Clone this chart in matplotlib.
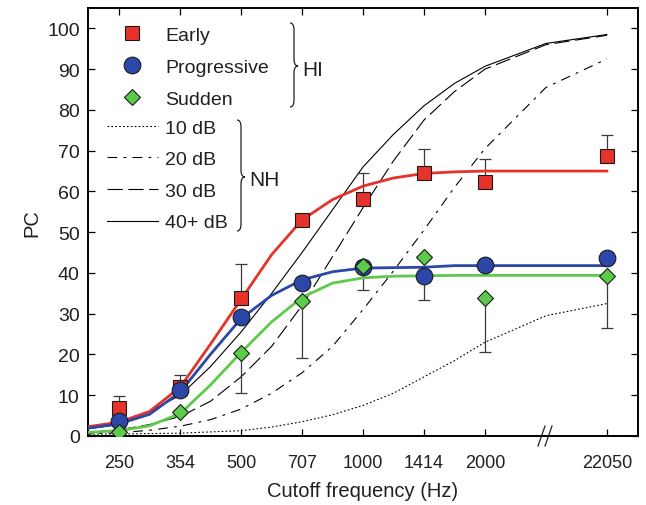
import matplotlib.pyplot as plt
import numpy as np
from matplotlib.lines import Line2D
from matplotlib.path import Path
from matplotlib.patches import PathPatch

plt.rcParams['font.family'] = ['Liberation Sans', 'DejaVu Sans']
plt.rcParams['lines.scale_dashes'] = False

nan = np.nan

# measured cutoff frequencies (Hz), 22050 sits after an axis break
freq_labels = ['250', '354', '500', '707', '1000', '1414', '2000', '22050']
freq_hz = np.array([250, 354, 500, 707, 1000, 1414, 2000, 22050])

# HI group means (PC) and one-sided error bar tips
early = np.array([6.9, 12.0, 33.9, 53.1, 58.2, 64.4, 62.2, 68.6])
early_upper = np.array([9.8, 15.0, 42.2, nan, 64.6, 70.5, 68.0, 73.8])
progressive = np.array([3.6, 11.2, 29.1, 37.5, 41.4, 39.2, 41.9, 43.6])
progressive_lower = np.array([nan, nan, nan, nan, 35.7, 33.3, nan, nan])
sudden = np.array([0.9, 6.0, 20.3, 33.0, 41.7, 43.9, 33.8, 39.2])
sudden_lower = np.array([nan, nan, 10.6, 19.1, nan, nan, 20.6, 26.4])

curve_hz = np.array([177, 250, 297, 354, 420, 500, 595, 707, 841, 1000,
                     1189, 1414, 1682, 2000, 2828, 22050])
early_fit = [1.2, 3.4, 6.0, 12.0, 22.5, 33.5, 44.5, 53.0, 58.0, 61.3,
             63.3, 64.4, 64.8, 65.0, 65.0, 65.0]
progressive_fit = [0.9, 3.0, 5.3, 10.8, 20.0, 28.8, 34.5, 38.3, 40.3, 41.2,
                   41.3, 41.4, 41.8, 41.8, 41.8, 41.8]
sudden_fit = [0.5, 1.3, 2.5, 5.5, 12.5, 20.5, 28.0, 34.0, 37.5, 38.8,
              39.2, 39.3, 39.4, 39.4, 39.4, 39.4]

nh_10 = [0.4, 0.5, 0.6, 0.7, 1.0, 1.3, 2.2, 3.5, 5.2, 7.5,
         10.5, 14.5, 18.5, 23.0, 29.5, 32.5]
nh_20 = [0.3, 0.8, 1.4, 2.4, 4.0, 6.6, 10.5, 15.5, 22.0, 31.0,
         40.5, 50.5, 61.0, 70.5, 85.5, 92.5]
nh_30 = [0.5, 1.5, 2.8, 4.8, 8.5, 14.5, 22.0, 32.0, 44.0, 56.0,
         67.5, 77.5, 84.5, 90.0, 96.0, 98.3]
nh_40 = [0.8, 2.8, 6.0, 10.0, 17.0, 25.5, 35.0, 45.0, 55.5, 66.0,
         74.0, 81.0, 86.5, 90.7, 96.3, 98.5]


def band_pos(f):
    # half-octave bands; anything past the break is drawn at slot 9
    f = np.asarray(f, float)
    return np.where(f > 3000, 9.0, 1 + 2 * np.log2(f / 250.0))


RED = '#e5322a'
BLUE = '#2c47a8'
GREEN = '#5ccb4a'
TXT = '#231f20'

fig = plt.figure(figsize=(6.46, 5.06), dpi=100)
W, H = 646, 506
L, R, T, B = 88, 638, 9, 437
ax = fig.add_axes([L / W, 1 - B / H, (R - L) / W, (B - T) / H])

xc = band_pos(curve_hz)
nh_styles = [
    (nh_10, '10 dB', (0, (1.2, 1.6))),
    (nh_20, '20 dB', (0, (7, 4.5, 2, 4.5))),
    (nh_30, '30 dB', (0, (11, 4))),
    (nh_40, '40+ dB', '-'),
]
nh_handles = []
for ys, lab, ls in nh_styles:
    ax.plot(xc, ys, color='black', lw=0.8, ls=ls, zorder=2)
    nh_handles.append(Line2D([], [], color='black', lw=0.8, ls=ls, label=lab))

ax.plot(xc, early_fit, color=RED, lw=2.0, zorder=4)
ax.plot(xc, progressive_fit, color=BLUE, lw=2.0, zorder=4)
ax.plot(xc, sudden_fit, color=GREEN, lw=2.0, zorder=4)

xp = band_pos(freq_hz)


def one_sided(y, tip, up):
    m = np.isfinite(tip)
    d = np.abs(tip - y)[m]
    z = np.zeros(m.sum())
    yerr = [z, d] if up else [d, z]
    ax.errorbar(xp[m], y[m], yerr=yerr, fmt='none', ecolor='#3a3a3a',
                elinewidth=0.9, capsize=4, capthick=0.9, zorder=3)


one_sided(early, early_upper, True)
one_sided(progressive, progressive_lower, False)
one_sided(sudden, sudden_lower, False)

mk = dict(ls='none', mec='#1a1a1a', mew=0.8, zorder=5)
h_e, = ax.plot(xp, early, marker='s', ms=10, mfc=RED, label='Early', **mk)
h_p, = ax.plot(xp, progressive, marker='o', ms=12, mfc=BLUE,
               label='Progressive', **mk)
h_s, = ax.plot(xp, sudden, marker='D', ms=8.5, mfc=GREEN, label='Sudden', **mk)

ax.set_xlim(0.49, 9.51)
ax.set_ylim(0, 105)
ax.set_xticks(xp)
ax.set_xticklabels(freq_labels)
ax.set_yticks(np.arange(0, 101, 10))
ax.tick_params(direction='in', length=5, width=0.9, top=True, right=True,
               labelcolor=TXT)
ax.tick_params(axis='x', pad=13, labelsize=13)
ax.tick_params(axis='y', pad=6, labelsize=14)
for s in ax.spines.values():
    s.set_linewidth(1.4)

ax.set_xlabel('Cutoff frequency (Hz)', fontsize=14.5, color=TXT)
ax.set_ylabel('PC', fontsize=14.5, color=TXT)
ax.xaxis.set_label_coords(0.5, -0.105)
ax.yaxis.set_label_coords(-0.085, 0.5)


def px(x, y):
    return ((x - L) / (R - L), (B - y) / (B - T))


leg1 = ax.legend(handles=[h_e, h_p, h_s], loc='upper left',
                 bbox_to_anchor=px(107, 27), frameon=False, fontsize=14,
                 handlelength=2.6, handletextpad=0.4, labelspacing=0.74,
                 borderpad=0, borderaxespad=0, labelcolor=TXT)
ax.add_artist(leg1)
ax.legend(handles=nh_handles, loc='upper left', bbox_to_anchor=px(107, 120),
          frameon=False, fontsize=14, handlelength=2.6, handletextpad=0.4,
          labelspacing=0.72, borderpad=0, borderaxespad=0, labelcolor=TXT)


def brace(x0, x1, ytop, ybot, ytip, r=7):
    xm = (x0 + x1) / 2
    pts = [(x0, ytop), (xm, ytop), (xm, ytop + r), (xm, ytop + r),
           (xm, ytip - r), (xm, ytip), (x1, ytip), (xm, ytip),
           (xm, ytip + r), (xm, ytip + r), (xm, ybot - r), (xm, ybot),
           (x0, ybot)]
    codes = [Path.MOVETO, Path.CURVE3, Path.CURVE3, Path.LINETO,
             Path.LINETO, Path.CURVE3, Path.CURVE3, Path.CURVE3,
             Path.CURVE3, Path.LINETO, Path.LINETO, Path.CURVE3, Path.CURVE3]
    verts = [px(x, y) for x, y in pts]
    ax.add_patch(PathPatch(Path(verts, codes), fill=False, lw=0.9,
                           ec=TXT, transform=ax.transAxes, clip_on=False))


brace(290, 298, 24, 108, 67)
brace(237, 245, 121, 232, 178)
ax.text(*px(302, 70), 'HI', transform=ax.transAxes, fontsize=15,
        va='center', ha='left', color=TXT)
ax.text(*px(249, 181), 'NH', transform=ax.transAxes, fontsize=15,
        va='center', ha='left', color=TXT)

# axis break marks
for dx in (0, 7):
    ax.plot([px(538 + dx, 0)[0], px(545 + dx, 0)[0]],
            [px(0, 447)[1], px(0, 427)[1]], color=TXT, lw=0.9,
            transform=ax.transAxes, clip_on=False, zorder=6)

fig.savefig('out.png', dpi=100)
